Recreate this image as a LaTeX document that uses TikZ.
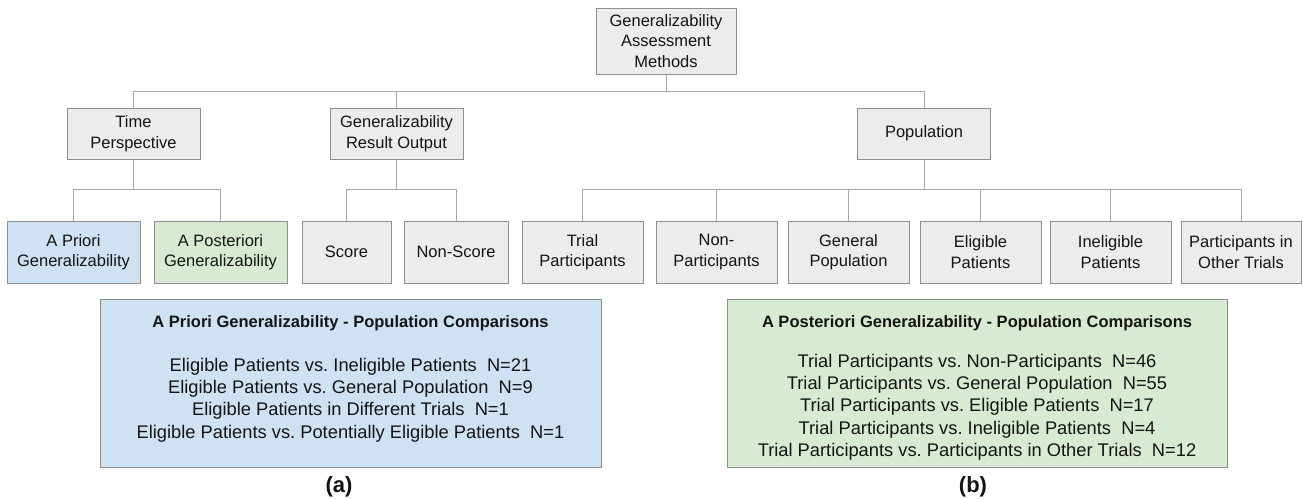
\documentclass[tikz,border=0pt]{standalone}
\usepackage{fontspec}
\setmainfont{Liberation Sans}
\frenchspacing
\definecolor{boxgray}{HTML}{ECECEC}
\definecolor{bordergray}{HTML}{8E8E8E}
\definecolor{linegray}{HTML}{A8A8A8}
\definecolor{bluefill}{HTML}{CFE2F3}
\definecolor{greenfill}{HTML}{D9EAD3}
\definecolor{textcol}{HTML}{141414}
\begin{document}
\begin{tikzpicture}[x=1pt,y=-1pt,
  box/.style={draw=bordergray, line width=1pt, fill=boxgray, align=center, inner sep=0pt,
    font=\fontsize{16.5}{20.5}\selectfont, text=textcol},
  lvltwo/.style={box, minimum height=62pt},
  lvlone/.style={box, minimum height=51pt, minimum width=133pt},
  conn/.style={draw=linegray, line width=1pt},
  sumbox/.style={draw=bordergray, line width=1pt, inner sep=0pt, minimum height=168pt},
  sumhead/.style={font=\bfseries\fontsize{16.5}{20}\selectfont, text=textcol, inner sep=0pt},
  sumbody/.style={align=center, font=\fontsize{18.3}{22.3}\selectfont, text=textcol, inner sep=0pt},
  sublabel/.style={font=\bfseries\fontsize{22}{26}\selectfont, text=textcol, inner sep=0pt}]
\useasboundingbox[fill=white] (0,0) rectangle (1303,498);

% root
\node[box, minimum width=140pt, minimum height=66pt] (root) at (666,41) {Generalizability\\Assessment\\Methods};

% level one
\node[lvlone] (tp)  at (133.5,133.5) {Time\\Perspective};
\node[lvlone] (gro) at (396.5,133.5) {Generalizability\\Result Output};
\node[lvlone] (pop) at (924,133.5) {Population};

% level two
\node[lvltwo, minimum width=133pt, fill=bluefill]  (apri)  at (73.5,252) {A Priori\\Generalizability};
\node[lvltwo, minimum width=133pt, fill=greenfill] (apost) at (220.5,252) {A Posteriori\\Generalizability};
\node[lvltwo, minimum width=89pt]  (score)    at (346.5,252) {Score};
\node[lvltwo, minimum width=104pt] (nonscore) at (456,252) {Non-Score};
\node[lvltwo, minimum width=121pt] (trial)    at (582.5,252) {Trial\\Participants};
\node[lvltwo, minimum width=121pt] (nonpart)  at (716.5,252) {Non-\\Participants};
\node[lvltwo, minimum width=121pt] (genpop)   at (848.5,252) {General\\Population};
\node[lvltwo, minimum width=121pt] (elig)     at (980.5,252) {Eligible\\Patients};
\node[lvltwo, minimum width=121pt] (inelig)   at (1110.5,252) {Ineligible\\Patients};
\node[lvltwo, minimum width=120pt] (other)    at (1241,252) {Participants in\\Other Trials};

% connectors
\coordinate (bus1) at (666,91);
\draw[conn] (root.south) -- (bus1);
\draw[conn] (bus1) -| (tp.north);
\draw[conn] (bus1) -| (gro.north);
\draw[conn] (bus1) -| (pop.north);

\coordinate (busa) at (133.5,189);
\draw[conn] (tp.south) -- (busa);
\draw[conn] (busa) -| (apri.north);
\draw[conn] (busa) -| (apost.north);

\coordinate (busb) at (396.5,189);
\draw[conn] (gro.south) -- (busb);
\draw[conn] (busb) -| (score.north);
\draw[conn] (busb) -| (nonscore.north);

\coordinate (busc) at (924,189);
\draw[conn] (pop.south) -- (busc);
\draw[conn] (busc) -| (trial.north);
\draw[conn] (busc) -| (nonpart.north);
\draw[conn] (busc) -| (genpop.north);
\draw[conn] (busc) -| (elig.north);
\draw[conn] (busc) -| (inelig.north);
\draw[conn] (busc) -| (other.north);

% summary boxes
\node[sumbox, fill=bluefill, minimum width=501pt] (prisum) at (350.5,383) {};
\node[sumhead] (prihead) at (350.5,323) {A Priori Generalizability - Population Comparisons};
\node[sumbody] (pribody) at (350.5,400) {Eligible Patients vs. Ineligible Patients~ N=21\\
Eligible Patients vs. General Population~ N=9\\
Eligible Patients in Different Trials~ N=1\\
Eligible Patients vs. Potentially Eligible Patients~ N=1};

\node[sumbox, fill=greenfill, minimum width=500pt] (postsum) at (977,383) {};
\node[sumhead] (posthead) at (977,323) {A Posteriori Generalizability - Population Comparisons};
\node[sumbody] (postbody) at (977,407) {Trial Participants vs. Non-Participants~ N=46\\
Trial Participants vs. General Population~ N=55\\
Trial Participants vs. Eligible Patients~ N=17\\
Trial Participants vs. Ineligible Patients~ N=4\\
Trial Participants vs. Participants in Other Trials~ N=12};

\node[sublabel] (laba) at (339,487) {(a)};
\node[sublabel] (labb) at (973,487) {(b)};
\end{tikzpicture}
\end{document}
